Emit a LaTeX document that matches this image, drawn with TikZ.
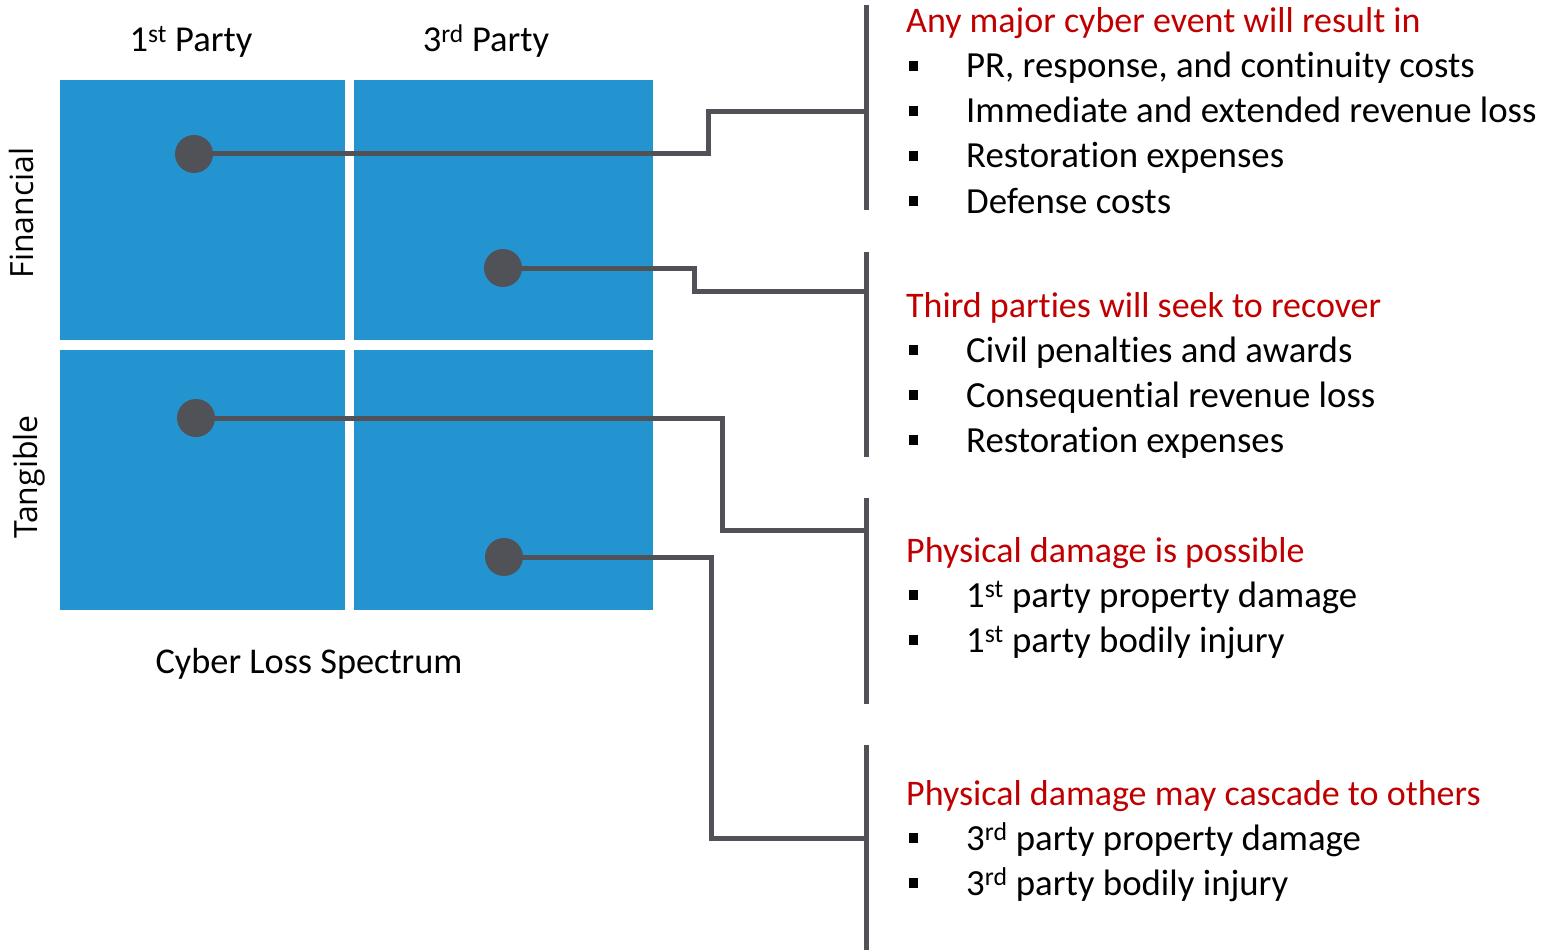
\documentclass[tikz,border=0pt]{standalone}
\usepackage{fontspec}
\setmainfont{Carlito}[Ligatures=NoCommon]
\newfontfamily\sidefont{Open Sans}
\definecolor{tileblue}{RGB}{35,148,208}
\definecolor{wiregray}{RGB}{80,82,87}
\definecolor{headred}{RGB}{192,0,0}
\begin{document}
\begin{tikzpicture}[x=1pt,y=-1pt,
  tile/.style={fill=tileblue,draw=none,inner sep=0pt,anchor=north west},
  dot/.style={circle,fill=wiregray,draw=none,inner sep=0pt,minimum size=38pt},
  wire/.style={draw=wiregray,line width=5pt},
  bar/.style={draw=wiregray,line width=5pt},
  colhead/.style={font=\fontsize{36.5}{42}\selectfont,inner sep=0pt,anchor=base},
  rowhead/.style={font=\sidefont\fontsize{32}{38}\selectfont,inner sep=0pt,rotate=90,anchor=base},
  heading/.style={font=\fontsize{36}{43}\selectfont,text=headred,inner sep=0pt,anchor=base west},
  item/.style={font=\fontsize{36.8}{43}\selectfont,inner sep=0pt,anchor=base west},
  bulletsq/.style={fill=black,draw=none,inner sep=0pt,minimum width=9pt,minimum height=10pt}]
\useasboundingbox (0,0) rectangle (1541,952);

% quadrant tiles
\node[tile,minimum width=285pt,minimum height=260pt] (fin1) at (60,80) {};
\node[tile,minimum width=299pt,minimum height=260pt] (fin3) at (354,80) {};
\node[tile,minimum width=285pt,minimum height=260pt] (tan1) at (60,350) {};
\node[tile,minimum width=299pt,minimum height=260pt] (tan3) at (354,350) {};

% axis labels
\node[colhead] (c1) at (191,52) {1\textsuperscript{st} Party};
\node[colhead] (c3) at (486,52) {3\textsuperscript{rd} Party};
\node[rowhead] (r1) at (33,213) {Financial};
\node[rowhead] (r2) at (37,477) {Tangible};
\node[font=\fontsize{36.3}{42}\selectfont,inner sep=0pt,anchor=base] (title) at (309,673) {Cyber Loss Spectrum};

% bracket bars
\draw[bar] (866,5) -- (866,210);
\draw[bar] (866,252) -- (866,457);
\draw[bar] (866,498) -- (866,704);
\draw[bar] (866,745) -- (866,950);
\coordinate (b1) at (866,112);
\coordinate (b2) at (866,291);
\coordinate (b3) at (866,530);
\coordinate (b4) at (866,838);

% markers
\node[dot] (d1) at (194,154) {};
\node[dot] (d2) at (503,268) {};
\node[dot] (d3) at (196,418) {};
\node[dot] (d4) at (504,557) {};

% connectors
\draw[wire] (d1.east) -| (708,112) -- (b1);
\draw[wire] (d2.east) -| (694,291) -- (b2);
\draw[wire] (d3.east) -| (722,530) -- (b3);
\draw[wire] (d4.east) -| (711,838) -- (b4);

% group 1
\node[heading] (h1) at (906,33) {Any major cyber event will result in};
\node[item] (i11) at (966,78) {PR, response, and continuity costs};
\node[item] (i12) at (966,123) {Immediate and extended revenue loss};
\node[item] (i13) at (966,168) {Restoration expenses};
\node[item] (i14) at (966,213) {Defense costs};
\node[bulletsq] (s11) at (913,66) {};
\node[bulletsq] (s12) at (913,111) {};
\node[bulletsq] (s13) at (913,156) {};
\node[bulletsq] (s14) at (913,201) {};

% group 2
\node[heading] (h2) at (906,317) {Third parties will seek to recover};
\node[item] (i21) at (966,362) {Civil penalties and awards};
\node[item] (i22) at (966,407) {Consequential revenue loss};
\node[item] (i23) at (966,452) {Restoration expenses};
\node[bulletsq] (s21) at (913,350) {};
\node[bulletsq] (s22) at (913,395) {};
\node[bulletsq] (s23) at (913,440) {};

% group 3
\node[heading] (h3) at (906,562) {Physical damage is possible};
\node[item] (i31) at (966,607) {1\textsuperscript{st} party property damage};
\node[item] (i32) at (966,652) {1\textsuperscript{st} party bodily injury};
\node[bulletsq] (s31) at (913,595) {};
\node[bulletsq] (s32) at (913,640) {};

% group 4
\node[heading] (h4) at (906,805) {Physical damage may cascade to others};
\node[item] (i41) at (966,850) {3\textsuperscript{rd} party property damage};
\node[item] (i42) at (966,895) {3\textsuperscript{rd} party bodily injury};
\node[bulletsq] (s41) at (913,838) {};
\node[bulletsq] (s42) at (913,883) {};
\end{tikzpicture}
\end{document}
